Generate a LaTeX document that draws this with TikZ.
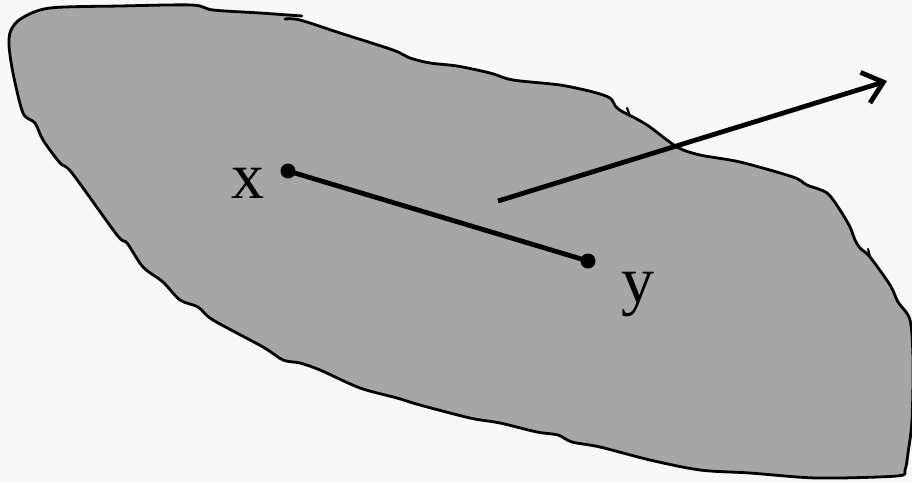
\documentclass[tikz,border=0pt]{standalone}
\usepackage{fontspec}
\setmainfont{Liberation Serif}
\usetikzlibrary{arrows.meta}
\definecolor{bgcol}{HTML}{F8F8F8}
\definecolor{blobcol}{HTML}{A6A6A6}
\begin{document}
\begin{tikzpicture}[x=1pt,y=-1pt,
  outline/.style={black,line width=2.8pt,line join=round,line cap=round},
  seg/.style={black,line width=4.8pt},
  dot/.style={circle,fill=black,inner sep=0pt,minimum size=15pt},
  lbl/.style={font=\fontsize{66}{66}\selectfont,anchor=base,inner sep=0pt}]
\useasboundingbox (0,0) rectangle (912,482);
\fill[bgcol] (0,0) rectangle (912,482);
\begin{scope}
\clip (0,0) rectangle (912,482);
\def\blob{(285,19) (300,20) (340,33) (393,50) (410,58) (430,63) (457,66) (490,73) (513,80) (560,85) (593,92) (610,98) (616,107) (623,112) (635,118) (650,127) (677,147) (700,155) (740,162) (793,177) (807,185) (827,193) (840,210) (850,227) (855,240) (860,248) (870,257) (890,285) (898,302) (910,320) (913,360) (912,420) (908,453) (905,470) (897,476) (817,478) (750,473) (700,470) (650,460) (600,447) (572,442) (558,435) (537,432) (500,423) (470,418) (420,405) (397,398) (360,388) (320,370) (300,363) (283,360) (263,347) (213,320) (198,307) (180,300) (163,282) (143,267) (127,243) (117,235) (72,173) (60,163) (43,140) (35,123) (23,113) (13,73) (9,45) (11,30) (22,18) (50,8) (120,6) (192,5) (213,10) (260,13) (302,16)}
\fill[blobcol] plot[smooth,tension=0.5] coordinates {\blob};
\draw[outline] plot[smooth,tension=0.5] coordinates {\blob};
\draw[outline,line width=2.2pt] (630,116) -- (627,108);
\draw[outline,line width=2.2pt] (870,257) -- (868,249);
\end{scope}
\node[dot] (px) at (288,171) {};
\node[dot] (py) at (588,261) {};
\draw[seg] (px.center) -- (py.center);
\coordinate (a0) at (498,201);
\coordinate (a1) at (887,81);
\draw[seg,-{Straight Barb[length=19pt,width=32pt,line width=4.8pt]}] (a0) -- (a1);
\node[lbl] (lx) at (248,198) {x};
\node[lbl] (ly) at (638,302) {y};
\end{tikzpicture}
\end{document}
